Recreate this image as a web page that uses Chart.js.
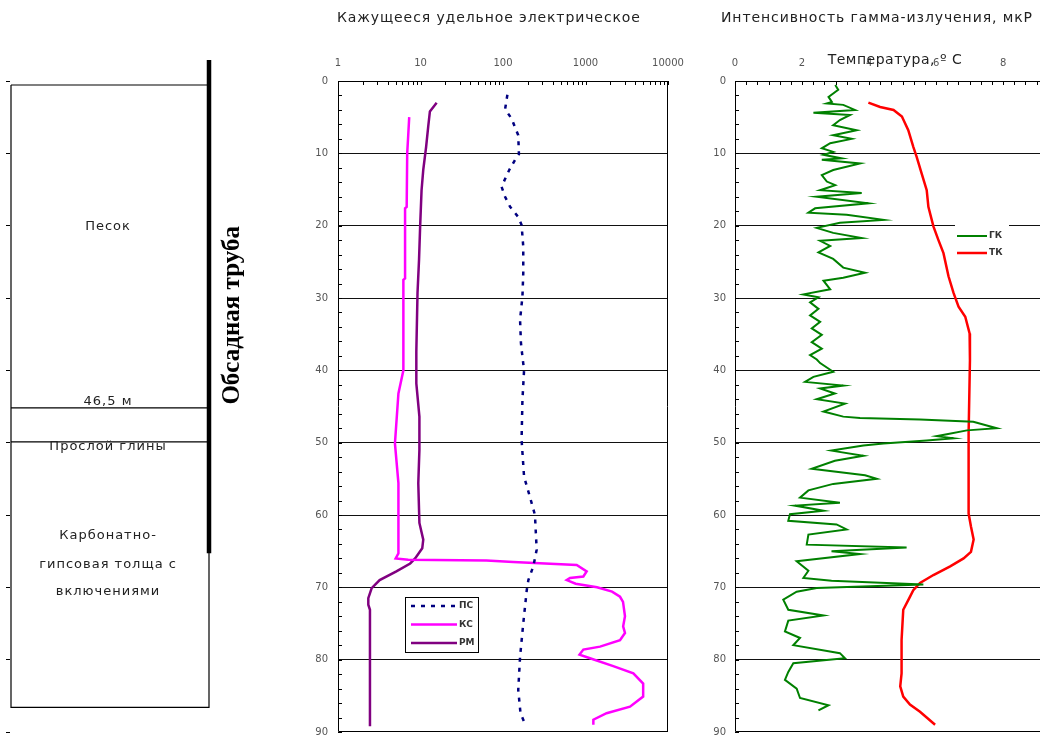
<!DOCTYPE html>
<html>
<head>
<meta charset="utf-8">
<script src="https://cdn.jsdelivr.net/npm/chart.js@4/dist/chart.umd.min.js"></script>
<style>
  body { margin: 0; background: #fff; }
  #wrap { position: relative; width: 1040px; height: 740px; overflow: hidden; background: #fff; }
  canvas { position: absolute; top: 0; }
</style>
</head>
<body>
<div id="wrap">
  <canvas id="lith" width="260" height="740" style="left:0"></canvas>
  <canvas id="resist" width="405" height="740" style="left:290px"></canvas>
  <canvas id="gamma" width="345" height="740" style="left:695px"></canvas>
</div>
<script>
// ---- axis ticks ----
const depthTicks = [0, 10, 20, 30, 40, 50, 60, 70, 80, 90];
const resistLabels = [1, 10, 100, 1000, 10000];
const gammaLabels = [0, 2, 4, 6, 8];

// ---- lithology column (depth, m) ----
const lithBounds = [0.55, 45.2, 49.9, 86.6];
const casingDepth = [-2.9, 65.3];
const lithText = ['Песок', '46,5 м', 'Прослой глины', 'Карбонатно-', 'гипсовая толща с', 'включениями'];
const lithTextDepth = [20.2, 44.3, 50.5, 62.9, 66.8, 70.6];

// ---- ПС ----
const psDepth = [1.9, 3.9, 5.2, 7.5, 10.1, 10.9, 12.3, 14.6, 16.0, 17.4, 18.8, 19.9, 22.9, 26.6, 29.8, 33.0, 36.2, 37.6, 40.0, 44.1, 49.6, 54.7, 57.5, 60.0, 64.8, 67.1, 69.0, 70.4, 75.0, 79.6, 84.2, 87.4, 89.2];
const psValue = [113, 106, 127, 153, 156, 140, 119, 96, 106, 122, 153, 168, 176, 176, 172, 161, 165, 170, 180, 172, 168, 180, 212, 244, 256, 233, 203, 194, 176, 161, 153, 163, 190];

// ---- КС ----
const ksDepth = [5.0, 7.5, 10.0, 17.4, 17.6, 27.3, 27.5, 38.1, 40.0, 43.2, 50.1, 55.6, 65.3, 66.0, 66.2, 66.3, 66.5, 66.9, 67.8, 68.5, 68.7, 69.0, 69.5, 70.0, 70.6, 71.3, 72.0, 74.0, 75.4, 76.3, 77.3, 78.2, 78.6, 79.3, 79.8, 80.9, 81.9, 83.3, 85.1, 86.5, 87.4, 88.3, 89.0];
const ksValue = [7.3, 7.1, 6.9, 6.8, 6.5, 6.5, 6.2, 6.2, 6.2, 5.4, 4.9, 5.4, 5.4, 5.0, 7.1, 63, 133, 782, 1033, 942, 649, 592, 760, 1380, 2100, 2620, 2850, 3010, 2860, 3010, 2620, 1500, 942, 846, 1134, 2170, 3800, 5000, 5000, 3460, 1800, 1245, 1245];

// ---- РМ ----
const rmDepth = [3.0, 4.2, 6.3, 9.1, 12.3, 15.1, 20.1, 24.7, 29.3, 37.4, 41.8, 46.4, 51.0, 55.6, 61.1, 63.4, 64.6, 66.0, 66.7, 67.8, 69.0, 70.1, 71.5, 72.4, 73.1, 89.2];
const rmValue = [15.7, 13.0, 12.4, 11.7, 10.8, 10.3, 9.9, 9.6, 9.2, 8.9, 8.9, 9.7, 9.7, 9.4, 9.7, 10.8, 10.5, 8.6, 7.5, 5.1, 3.2, 2.56, 2.33, 2.33, 2.44, 2.44];

// ---- ГК ----
const gkDepth = [0.55, 1.2, 2.2, 2.9, 3.1, 3.3, 4.0, 4.4, 4.7, 5.4, 6.1, 6.8, 7.5, 8.0, 8.6, 9.3, 9.8, 10.2, 10.7, 10.9, 11.4, 12.3, 13.0, 13.9, 14.4, 15.1, 15.5, 16.0, 16.9, 17.6, 18.2, 18.5, 19.2, 19.6, 20.3, 21.0, 21.7, 22.1, 22.8, 23.7, 24.6, 25.8, 26.5, 27.2, 27.6, 28.8, 29.5, 29.9, 30.6, 31.5, 32.4, 33.3, 34.2, 35.1, 36.1, 37.0, 37.9, 38.5, 39.0, 40.2, 40.9, 41.6, 42.1, 42.5, 43.2, 44.0, 44.6, 45.7, 46.4, 46.6, 46.8, 47.1, 48.0, 48.3, 49.1, 49.4, 49.7, 50.1, 50.4, 51.1, 51.8, 52.5, 53.6, 54.5, 55.0, 55.7, 56.6, 57.6, 58.3, 58.7, 59.4, 59.9, 60.8, 61.3, 62.0, 62.7, 64.1, 64.5, 65.0, 65.4, 66.4, 67.7, 68.7, 69.1, 69.6, 70.1, 70.6, 71.7, 73.1, 73.9, 74.6, 76.1, 77.0, 78.0, 79.1, 79.8, 80.5, 81.7, 82.8, 84.0, 85.3, 86.3, 87.0];
const gkValue = [2.99, 3.08, 2.79, 2.89, 2.74, 3.23, 3.58, 2.34, 3.43, 3.13, 2.93, 3.63, 2.93, 3.48, 2.84, 2.59, 2.93, 2.64, 3.18, 2.59, 3.73, 2.93, 2.59, 2.74, 2.99, 2.54, 3.78, 2.44, 3.98, 2.39, 2.19, 3.33, 4.43, 3.13, 2.44, 2.93, 3.78, 2.54, 2.84, 2.49, 2.93, 3.23, 3.88, 3.23, 2.64, 2.84, 2.04, 2.49, 2.24, 2.49, 2.24, 2.54, 2.29, 2.59, 2.29, 2.59, 2.24, 2.44, 2.54, 2.93, 2.34, 2.09, 3.23, 2.54, 2.98, 2.44, 3.28, 2.64, 3.23, 3.73, 5.52, 7.11, 7.81, 6.92, 6.02, 6.52, 5.72, 4.43, 3.83, 2.88, 3.83, 2.98, 2.29, 3.88, 4.23, 2.93, 2.19, 1.94, 3.13, 1.79, 2.64, 1.64, 1.59, 3.03, 3.33, 2.19, 2.14, 5.12, 2.88, 3.73, 1.84, 2.19, 2.04, 2.88, 5.62, 2.44, 1.84, 1.44, 1.59, 2.64, 1.59, 1.49, 1.94, 1.74, 3.13, 3.28, 1.74, 1.59, 1.49, 1.84, 1.94, 2.79, 2.49];

// ---- ТК ----
const tkDepth = [3.0, 3.6, 4.0, 4.9, 6.8, 9.1, 10.5, 12.8, 15.1, 17.4, 20.1, 22.0, 23.8, 27.0, 29.3, 31.2, 32.6, 34.9, 38.6, 48.7, 59.8, 61.6, 63.4, 65.1, 66.0, 67.1, 68.3, 69.4, 70.4, 71.5, 73.1, 77.3, 81.9, 83.7, 85.1, 86.2, 87.2, 89.0];
const tkValue = [3.98, 4.33, 4.73, 4.98, 5.17, 5.32, 5.42, 5.57, 5.72, 5.77, 5.92, 6.07, 6.22, 6.37, 6.52, 6.67, 6.87, 7.0, 7.01, 6.97, 6.97, 7.04, 7.12, 7.04, 6.82, 6.42, 5.92, 5.52, 5.32, 5.2, 5.02, 4.97, 4.97, 4.93, 5.02, 5.22, 5.52, 5.97];

Chart.defaults.font.family = 'DejaVu Sans';
Chart.defaults.animation = false;

// minor ticks
const depthMinor = [];
for (let d = depthTicks[0]; d <= depthTicks[depthTicks.length - 1]; d += 2) depthMinor.push(d);
const resistMinor = [];
resistLabels.forEach((p, i) => {
  if (i === resistLabels.length - 1) { resistMinor.push(p); return; }
  for (let k = 1; k <= 9; k++) resistMinor.push(k * p);
});
const gammaMinor = [];
for (let k = 0; k <= 27; k++) gammaMinor.push(k / 3);

function curve(label, depth, value, color, width, dash) {
  return {
    label: label,
    data: depth.map((d, i) => ({ x: value[i], y: d })),
    borderColor: color,
    backgroundColor: color,
    borderWidth: width,
    borderDash: dash || [],
    showLine: true,
    pointRadius: 0,
    tension: 0,
    clip: false
  };
}

function depthAxis(width, pad) {
  return {
    type: 'linear', reverse: true, min: 0, max: 90,
    afterBuildTicks: s => { s.ticks = depthMinor.map(v => ({ value: v })); },
    afterFit: s => { s.width = width; s.paddingTop = 0; s.paddingBottom = 0; },
    border: { display: false },
    grid: {
      drawTicks: false,
      color: c => (c.tick && c.tick.value % 10 === 0 && c.tick.value > 0 && c.tick.value < 90) ? '#111' : 'rgba(0,0,0,0)',
      lineWidth: 1
    },
    ticks: {
      autoSkip: false, padding: pad, color: '#555', font: { size: 10 },
      callback: v => depthTicks.includes(v) ? String(v) : ''
    }
  };
}

// frame + inward tick marks + texts + boxed legend
const decor = {
  id: 'decor',
  afterDraw(chart, args, o) {
    const ctx = chart.ctx, a = chart.chartArea, x = chart.scales.x, y = chart.scales.y;
    ctx.save();
    ctx.strokeStyle = '#000';
    ctx.lineWidth = 1;
    ctx.beginPath();
    x.ticks.forEach(t => {
      const px = Math.round(x.getPixelForValue(t.value)) + 0.5;
      ctx.moveTo(px, a.top); ctx.lineTo(px, a.top + 4);
    });
    y.ticks.forEach(t => {
      const py = Math.round(y.getPixelForValue(t.value)) + 0.5;
      ctx.moveTo(a.left, py); ctx.lineTo(a.left + 4, py);
    });
    // frame
    const l = Math.round(a.left) + 0.5, r = Math.round(a.right) - 0.5;
    const t = Math.round(a.top) + 0.5, b = Math.round(a.bottom) - 0.5;
    ctx.moveTo(l, t); ctx.lineTo(r + 0.5, t);
    ctx.moveTo(l, t); ctx.lineTo(l, b);
    ctx.moveTo(l, b); ctx.lineTo(r + 0.5, b);
    if (o.rightEdge) { ctx.moveTo(r, t); ctx.lineTo(r, b); }
    ctx.stroke();

    // titles
    ctx.fillStyle = '#222';
    ctx.textBaseline = 'middle';
    (o.titles || []).forEach(tt => {
      ctx.font = '14px "DejaVu Sans"';
      ctx.letterSpacing = tt.spacing || '0px';
      ctx.textAlign = tt.align || 'left';
      ctx.fillText(tt.text, tt.x, tt.y);
    });
    ctx.letterSpacing = '0px';

    // legend
    if (o.legend) {
      const L = o.legend;
      ctx.fillStyle = '#fff';
      ctx.fillRect(L.x, L.y, L.w, L.h);
      if (L.border) { ctx.strokeStyle = '#000'; ctx.strokeRect(L.x + 0.5, L.y + 0.5, L.w, L.h); }
      chart.data.datasets.forEach((ds, i) => {
        const yy = L.y + L.first + i * L.step;
        ctx.beginPath();
        ctx.strokeStyle = ds.borderColor;
        ctx.lineWidth = ds.borderWidth;
        ctx.setLineDash(ds.borderDash || []);
        ctx.moveTo(L.x + L.lx, yy); ctx.lineTo(L.x + L.lx + L.lw, yy);
        ctx.stroke();
        ctx.setLineDash([]);
        ctx.fillStyle = '#333';
        ctx.font = 'bold 9px "DejaVu Sans"';
        ctx.textAlign = 'left';
        ctx.fillText(ds.label, L.x + L.lx + L.lw + 2, yy);
      });
    }
    ctx.restore();
  }
};

// ---- resistivity panel ----
new Chart(document.getElementById('resist'), {
  type: 'scatter',
  data: {
    datasets: [
      curve('ПС', psDepth, psValue, '#000080', 2.5, [4, 6]),
      curve('КС', ksDepth, ksValue, '#ff00ff', 2.5),
      curve('РМ', rmDepth, rmValue, '#800080', 2.5)
    ]
  },
  options: {
    responsive: false,
    layout: { padding: { top: 0, right: 27, bottom: 8, left: 0 } },
    plugins: {
      legend: { display: false }, tooltip: { enabled: false },
      decor: {
        rightEdge: true,
        titles: [{ text: 'Кажущееся удельное электрическое', x: 47, y: 18, spacing: '0.9px' }],
        legend: { x: 115, y: 597, w: 73, h: 55, border: true, first: 9, step: 18.5, lx: 6, lw: 46 }
      }
    },
    scales: {
      x: {
        type: 'logarithmic', position: 'top', min: 1, max: 10000,
        afterBuildTicks: s => { s.ticks = resistMinor.map(v => ({ value: v })); },
        afterFit: s => { s.height = 81; s.paddingLeft = 0; s.paddingRight = 0; },
        border: { display: false },
        grid: { display: false, drawTicks: false },
        ticks: {
          autoSkip: false, maxRotation: 0, padding: 12, color: '#555', font: { size: 10 },
          callback: v => resistLabels.includes(v) ? String(v) : ''
        }
      },
      y: depthAxis(48, 10)
    }
  },
  plugins: [decor]
});

// ---- gamma / temperature panel ----
new Chart(document.getElementById('gamma'), {
  type: 'scatter',
  data: {
    datasets: [
      curve('ГК', gkDepth, gkValue, '#008000', 2),
      curve('ТК', tkDepth, tkValue, '#ff0000', 2.5)
    ]
  },
  options: {
    responsive: false,
    layout: { padding: { top: 0, right: 0, bottom: 8, left: 0 } },
    plugins: {
      legend: { display: false }, tooltip: { enabled: false },
      decor: {
        rightEdge: false,
        titles: [
          { text: 'Интенсивность гамма-излучения, мкР', x: 26, y: 18, spacing: '0.9px' },
          { text: 'Температура, º С', x: 200, y: 60, align: 'center', spacing: '0.5px' }
        ],
        legend: { x: 260, y: 222, w: 54, h: 44, border: false, first: 14, step: 17, lx: 2, lw: 30 }
      }
    },
    scales: {
      x: {
        type: 'linear', position: 'top', min: 0, max: 9.1,
        afterBuildTicks: s => { s.ticks = gammaMinor.map(v => ({ value: v })); },
        afterFit: s => { s.height = 81; s.paddingLeft = 0; s.paddingRight = 0; },
        border: { display: false },
        grid: { display: false, drawTicks: false },
        ticks: {
          autoSkip: false, maxRotation: 0, padding: 12, color: '#555', font: { size: 10 },
          callback: v => {
            const n = Math.round(v);
            return (Math.abs(v - n) < 1e-6 && gammaLabels.includes(n)) ? String(n) : '';
          }
        }
      },
      y: depthAxis(40, 9)
    }
  },
  plugins: [decor]
});

// ---- lithology column ----
const lithDecor = {
  id: 'lithDecor',
  afterDraw(chart) {
    const ctx = chart.ctx, x = chart.scales.x, y = chart.scales.y;
    ctx.save();
    ctx.fillStyle = '#222';
    ctx.font = '13px "DejaVu Sans"';
    ctx.letterSpacing = '1px';
    ctx.textAlign = 'center';
    ctx.textBaseline = 'middle';
    const cx = x.getPixelForValue(0.49);
    lithText.forEach((t, i) => ctx.fillText(t, cx, y.getPixelForValue(lithTextDepth[i])));
    ctx.letterSpacing = '0px';
    ctx.translate(x.getPixelForValue(1) + 24, y.getPixelForValue(32.4));
    ctx.rotate(-Math.PI / 2);
    ctx.font = 'bold 25px "Liberation Serif"';
    ctx.fillStyle = '#000';
    ctx.fillText('Обсадная труба', 0, 0);
    ctx.restore();
  }
};

const lithStyle = { borderColor: '#000', borderWidth: 1.2, showLine: true, pointRadius: 0, tension: 0, clip: false };
new Chart(document.getElementById('lith'), {
  type: 'scatter',
  data: {
    datasets: [
      Object.assign({ data: [
        { x: 0, y: lithBounds[0] }, { x: 1, y: lithBounds[0] }, { x: 1, y: lithBounds[3] },
        { x: 0, y: lithBounds[3] }, { x: 0, y: lithBounds[0] }] }, lithStyle),
      Object.assign({ data: [{ x: 0, y: lithBounds[1] }, { x: 1, y: lithBounds[1] }] }, lithStyle),
      Object.assign({ data: [{ x: 0, y: lithBounds[2] }, { x: 1, y: lithBounds[2] }] }, lithStyle),
      Object.assign({ data: casingDepth.map(d => ({ x: 1, y: d })) }, lithStyle, { borderWidth: 4.5 })
    ]
  },
  options: {
    responsive: false,
    layout: { padding: { top: 81, right: 45, bottom: 8, left: 0 } },
    plugins: { legend: { display: false }, tooltip: { enabled: false } },
    scales: {
      x: { type: 'linear', display: false, min: -1 / 198, max: 205 / 198 - 1 / 198 },
      y: {
        type: 'linear', reverse: true, min: 0, max: 90,
        afterBuildTicks: s => { s.ticks = depthTicks.map(v => ({ value: v })); },
        afterFit: s => { s.width = 10; },
        border: { display: false },
        grid: { drawOnChartArea: false, drawTicks: true, tickLength: 4, color: '#000' },
        ticks: { display: false }
      }
    }
  },
  plugins: [lithDecor]
});
</script>
</body>
</html>
